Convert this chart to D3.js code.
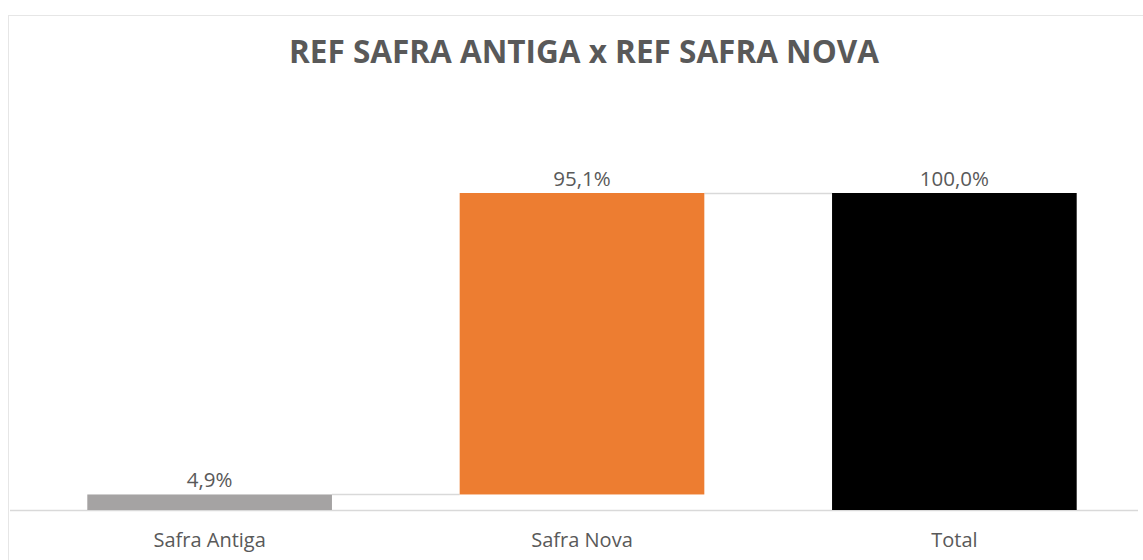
<!DOCTYPE html>
<html>
<head>
<meta charset="utf-8">
<script src="https://cdn.jsdelivr.net/npm/d3@7"></script>
<style>
  body { margin: 0; background: #fff; }
  svg text { font-family: "Open Sans", sans-serif; fill: #595959; }
</style>
</head>
<body>
<div id="chart"></div>
<script>
const categories = ["Safra Antiga", "Safra Nova", "Total"];
const values = [4.9, 95.1, 100.0];
const isTotal = [false, false, true];
const barColors = ["#a5a3a3", "#ed7d31", "#000000"];
const titleText = "REF SAFRA ANTIGA x REF SAFRA NOVA";

const width = 1143, height = 560;
const margin = { top: 193, left: 24, right: 3, bottom: 50 };

const svg = d3.select('#chart').append('svg')
    .attr('width', width)
    .attr('height', height);

// chart frame
svg.append('rect')
    .attr('x', 8.5).attr('y', 15.5)
    .attr('width', 1160).attr('height', 600)
    .attr('fill', 'none')
    .attr('stroke', '#e6e6e6');

// waterfall bases
let running = 0;
const bars = categories.map((c, i) => {
    let base, top;
    if (isTotal[i]) { base = 0; top = values[i]; running = values[i]; }
    else { base = running; top = running + values[i]; running = top; }
    return { cat: c, value: values[i], base, top, color: barColors[i] };
});

const x = d3.scaleBand()
    .domain(categories)
    .range([margin.left, width - margin.right])
    .paddingInner(0.343)
    .paddingOuter(0.17);

const y = d3.scaleLinear()
    .domain([0, 100])
    .range([height - margin.bottom, margin.top]);

// connectors
for (let i = 0; i < bars.length - 1; i++) {
    svg.append('line')
        .attr('x1', x(bars[i].cat) + x.bandwidth())
        .attr('x2', x(bars[i + 1].cat))
        .attr('y1', Math.round(y(bars[i].top)) + 0.5)
        .attr('y2', Math.round(y(bars[i].top)) + 0.5)
        .attr('stroke', '#d9d9d9')
        .attr('stroke-width', 1.5);
}

// axis baseline
const xAxis = svg.append('g')
    .attr('transform', `translate(0,${y(0)})`)
    .call(d3.axisBottom(x).tickSize(0).tickPadding(23));
xAxis.select('.domain')
    .attr('d', `M10,0.5H1138`)
    .attr('stroke', '#d9d9d9')
    .attr('stroke-width', 1.5);
xAxis.selectAll('text')
    .style('font-size', '20px')
    .style('font-family', '"Open Sans", sans-serif')
    .attr('fill', '#595959');

svg.selectAll('rect.bar')
    .data(bars)
    .join('rect')
    .attr('class', 'bar')
    .attr('x', d => x(d.cat))
    .attr('y', d => y(d.top))
    .attr('width', x.bandwidth())
    .attr('height', d => y(d.base) - y(d.top))
    .attr('fill', d => d.color);

svg.selectAll('text.val')
    .data(bars)
    .join('text')
    .attr('class', 'val')
    .attr('x', d => x(d.cat) + x.bandwidth() / 2)
    .attr('y', d => y(d.top) - 7)
    .attr('text-anchor', 'middle')
    .style('font-size', '20.5px')
    .text(d => d.value.toFixed(1).replace('.', ',') + '%');

svg.append('text')
    .attr('x', 584)
    .attr('y', 63)
    .attr('text-anchor', 'middle')
    .style('font-size', '31.5px')
    .style('font-weight', 'bold')
    .text(titleText);
</script>
</body>
</html>
